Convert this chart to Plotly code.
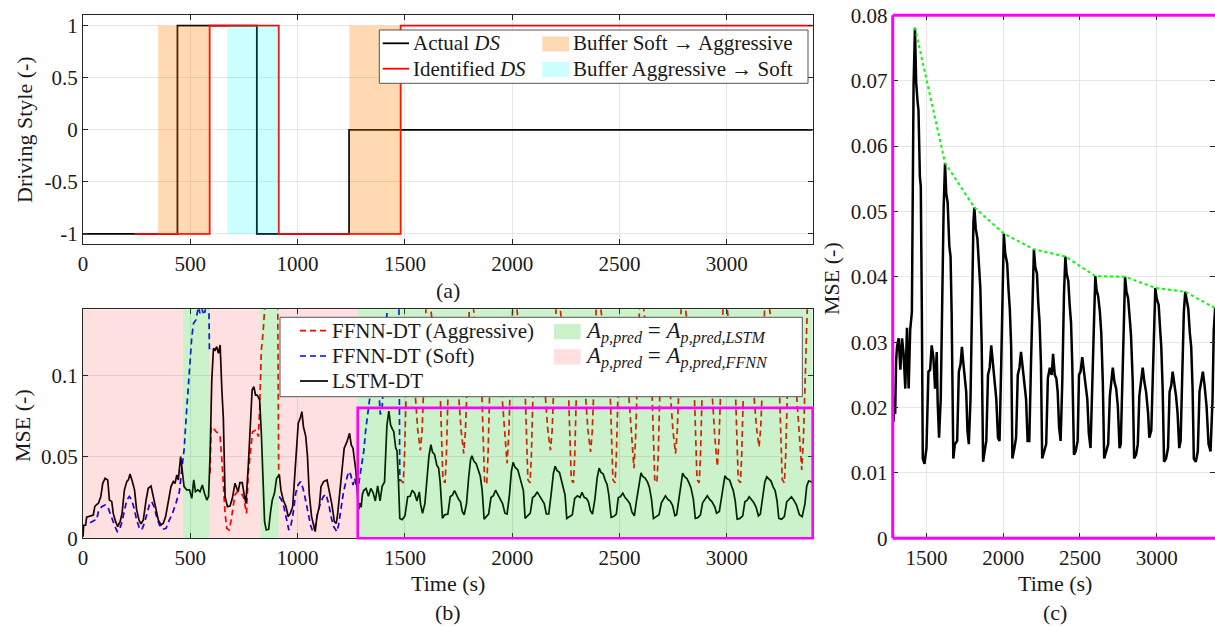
import plotly.graph_objects as go

W, H = 1215, 626
FONT = "Liberation Serif, Times New Roman, serif"
TXT = "#1a1a1a"

# ---------------- data ----------------
# (a) driving style
ds_actual_t = [0, 440, 810, 1240, 3400]
ds_actual_v = [-1, 1, -1, 0, 0]
ds_ident_t = [240, 590, 912, 1480, 3400]
ds_ident_v = [-1, 1, -1, 1, 1]
buffer_soft_to_aggr = [(350, 590), (1241, 1480)]
buffer_aggr_to_soft = [(672, 912)]

# (b) predictor selection regions
lstm_regions = [(465, 590), (827, 912), (1278, 3400)]
ffnn_regions = [(0, 465), (590, 827), (912, 1278)]

# LSTM-DT MSE
lstm_t = [0, 3, 12, 17, 48, 55, 61, 72, 83, 92, 103, 115, 119, 123, 134, 141, 152, 162, 173, 182,
          193, 204, 212, 219, 230, 240, 250, 261, 270, 281, 294, 304, 317, 328, 339, 351, 364, 374, 385, 398,
          410, 421, 429, 437, 444, 455, 463, 471, 483, 496, 507, 516, 524, 535, 545, 556, 566, 577, 585, 592,
          600, 608, 616, 623, 631, 639, 647, 654, 662, 673, 685, 696, 708, 715, 723, 731, 742, 750, 759, 770,
          781, 788, 796, 804, 812, 823, 831, 839, 846, 854, 865, 873, 882, 892, 902, 915, 922, 933, 946, 956,
          966, 977, 984, 995, 1003, 1012, 1020, 1027, 1038, 1046, 1054, 1065, 1074, 1082, 1090, 1101, 1109, 1121, 1137, 1149,
          1160, 1171, 1180, 1186, 1196, 1206, 1217, 1230, 1242, 1250, 1258, 1264, 1272, 1276, 1281, 1285, 1290, 1296, 1302, 1308,
          1319, 1330, 1341, 1351, 1362, 1373, 1384, 1394, 1405, 1416, 1425, 1433, 1442, 1448, 1457, 1463, 1470, 1476, 1487, 1500,
          1513, 1524, 1534, 1545, 1556, 1567, 1573, 1582, 1593, 1603, 1612, 1621, 1629, 1638, 1649, 1657, 1664, 1675, 1685, 1700,
          1711, 1722, 1731, 1739, 1750, 1759, 1767, 1776, 1787, 1797, 1806, 1812, 1821, 1832, 1845, 1851, 1860, 1869, 1879, 1890,
          1901, 1912, 1922, 1933, 1944, 1955, 1966, 1976, 1987, 1996, 2004, 2013, 2026, 2034, 2043, 2052, 2060, 2073, 2084, 2095,
          2106, 2116, 2127, 2138, 2149, 2159, 2170, 2181, 2192, 2200, 2209, 2220, 2228, 2237, 2246, 2254, 2267, 2280, 2291, 2304,
          2316, 2325, 2336, 2346, 2355, 2364, 2374, 2385, 2396, 2405, 2413, 2424, 2433, 2442, 2450, 2461, 2472, 2485, 2494, 2504,
          2515, 2526, 2537, 2548, 2558, 2569, 2580, 2591, 2600, 2608, 2619, 2630, 2639, 2649, 2658, 2671, 2684, 2695, 2706, 2714,
          2725, 2736, 2747, 2758, 2766, 2777, 2786, 2794, 2803, 2814, 2825, 2833, 2844, 2853, 2866, 2877, 2887, 2898, 2909, 2920,
          2931, 2944, 2952, 2965, 2976, 2985, 2991, 3000, 3013, 3024, 3030, 3039, 3048, 3061, 3074, 3084, 3095, 3104, 3115, 3126,
          3136, 3147, 3156, 3167, 3177, 3186, 3195, 3206, 3216, 3225, 3234, 3242, 3255, 3268, 3279, 3290, 3301, 3312, 3325, 3338,
          3351, 3364, 3372, 3381, 3392, 3400]
lstm_v = [0.001, 0.008, 0.008, 0.013, 0.0143, 0.0195, 0.0204, 0.0215, 0.0256, 0.0337, 0.0368, 0.0358, 0.030, 0.0235, 0.0225, 0.0153, 0.0102, 0.0072, 0.0102, 0.0153,
          0.0297, 0.0348, 0.036, 0.0395, 0.0348, 0.0297, 0.0174, 0.0112, 0.0088, 0.0112, 0.0235, 0.0307, 0.0321, 0.0256, 0.0174, 0.0112, 0.0082, 0.0092, 0.0133, 0.0235,
          0.0317, 0.0348, 0.0337, 0.0389, 0.0358, 0.0501, 0.0419, 0.0317, 0.0297, 0.0297, 0.0245, 0.0358, 0.0286, 0.0297, 0.0286, 0.0327, 0.0276, 0.0235, 0.0256, 0.0501,
          0.0971, 0.1166, 0.1155, 0.1176, 0.1135, 0.1186, 0.091, 0.0736, 0.0256, 0.0194, 0.0198, 0.0245, 0.0337, 0.0317, 0.0286, 0.0342, 0.0342, 0.0276, 0.0215, 0.044,
          0.0746, 0.091, 0.093, 0.0879, 0.0879, 0.0849, 0.0644, 0.0317, 0.0102, 0.0051, 0.0055, 0.0153, 0.0235, 0.0276, 0.0368, 0.0389, 0.0297, 0.0235, 0.0194, 0.0133,
          0.0153, 0.0194, 0.0317, 0.0521, 0.0706, 0.0736, 0.0777, 0.0685, 0.0624, 0.0501, 0.0276, 0.0133, 0.0072, 0.0041, 0.0133, 0.0194, 0.0317, 0.0348, 0.0358, 0.0286,
          0.0205, 0.0102, 0.0092, 0.0143, 0.0266, 0.043, 0.0553, 0.0593, 0.0644, 0.0573, 0.0553, 0.0491, 0.0409, 0.032, 0.020, 0.0178, 0.0215, 0.019, 0.027, 0.0293,
          0.0306, 0.0258, 0.0306, 0.0282, 0.0229, 0.0322, 0.0229, 0.0319, 0.0346, 0.0692, 0.0781, 0.0697, 0.0668, 0.0655, 0.0554, 0.0538, 0.0346, 0.0122, 0.0114, 0.0138,
          0.0255, 0.0258, 0.0295, 0.0277, 0.0229, 0.0285, 0.0208, 0.0154, 0.0213, 0.0399, 0.0506, 0.0574, 0.0527, 0.0514, 0.0447, 0.0431, 0.0346, 0.0122, 0.0144, 0.0149,
          0.0255, 0.0266, 0.0293, 0.0271, 0.0239, 0.0224, 0.0165, 0.0144, 0.0213, 0.0373, 0.0484, 0.0506, 0.0474, 0.0458, 0.0405, 0.0383, 0.0293, 0.0117, 0.0133, 0.0149,
          0.025, 0.0261, 0.0295, 0.0266, 0.0234, 0.0213, 0.0154, 0.0149, 0.0266, 0.041, 0.0466, 0.0436, 0.042, 0.0383, 0.0351, 0.0293, 0.0122, 0.0138, 0.0154, 0.025,
          0.0261, 0.0285, 0.0261, 0.0239, 0.0213, 0.0149, 0.0149, 0.0266, 0.0399, 0.0442, 0.0415, 0.0405, 0.0362, 0.033, 0.0266, 0.0122, 0.0133, 0.0144, 0.0245, 0.0261,
          0.025, 0.0282, 0.025, 0.0245, 0.0224, 0.017, 0.0149, 0.0239, 0.0373, 0.0431, 0.0405, 0.0394, 0.0357, 0.033, 0.0266, 0.0128, 0.0133, 0.0149, 0.025, 0.0255,
          0.0277, 0.025, 0.0234, 0.0213, 0.016, 0.0138, 0.0239, 0.0346, 0.0401, 0.038, 0.037, 0.0346, 0.0314, 0.0239, 0.0122, 0.0133, 0.0144, 0.0218, 0.0239, 0.0261,
          0.0239, 0.0229, 0.0202, 0.0138, 0.0144, 0.0239, 0.0346, 0.0400, 0.0378, 0.0367, 0.0335, 0.0309, 0.0239, 0.0122, 0.0128, 0.0144, 0.0218, 0.0239, 0.0261, 0.0239,
          0.0224, 0.0192, 0.0154, 0.0165, 0.0266, 0.0357, 0.0383, 0.0367, 0.0357, 0.0314, 0.0293, 0.0229, 0.0117, 0.0122, 0.0138, 0.0224, 0.0234, 0.0255, 0.0239, 0.0218,
          0.0192, 0.0138, 0.0149, 0.0239, 0.0346, 0.0377, 0.0362, 0.0351, 0.0314, 0.0293, 0.0229, 0.0122, 0.0117, 0.0133, 0.0224, 0.0239, 0.0255, 0.0234, 0.0202, 0.0144,
          0.0133, 0.0213, 0.0319, 0.0352, 0.0350, 0.0345]

# peak envelope of LSTM-DT MSE
env_t = [1425, 1621, 1812, 2004, 2200, 2405, 2600, 2794, 2991, 3186, 3381]
env_v = [0.0781, 0.0574, 0.0506, 0.0466, 0.0442, 0.0431, 0.0401, 0.0400, 0.0383, 0.0377, 0.0352]

# FFNN-DT (Soft) MSE, two visible stretches
soft1_t = [33, 45, 56, 63, 72, 87, 103, 115, 126, 137, 149, 160, 169, 180, 193, 204, 216, 227, 238, 250,
           263, 273, 286, 297, 309, 320, 331, 343, 356, 371, 387, 402, 417, 433, 449, 460, 471, 483, 496, 507,
           515, 526, 538, 545, 553, 564, 573, 580, 586, 589]
soft1_v = [0.0096, 0.0105, 0.0112, 0.0112, 0.0164, 0.0194, 0.0204, 0.0194, 0.0153, 0.0112, 0.0072, 0.0041, 0.0051, 0.0092, 0.0174, 0.0235, 0.0256, 0.0235, 0.0184, 0.0112,
           0.0061, 0.0051, 0.0092, 0.0153, 0.0204, 0.0225, 0.0194, 0.0133, 0.0082, 0.0055, 0.0061, 0.0112, 0.0153, 0.0215, 0.0286, 0.0419, 0.0542, 0.0787, 0.1053, 0.1237,
           0.1319, 0.134, 0.1421, 0.138, 0.141, 0.137, 0.142, 0.15, 0.15, 0.115]
soft2_t = [914, 925, 936, 948, 959, 968, 979, 991, 1002, 1014, 1025, 1037, 1048, 1060, 1071, 1082, 1093, 1106, 1120, 1132,
           1145, 1156, 1168, 1183, 1191, 1202, 1214, 1227, 1238, 1248, 1258, 1265, 1273, 1284, 1295, 1308, 1318, 1328, 1340, 1352,
           1365, 1375, 1385, 1393, 1402, 1412, 1420, 1440, 1470, 1476]
soft2_v = [0.0256, 0.0235, 0.0194, 0.0112, 0.0051, 0.0072, 0.0153, 0.0276, 0.0327, 0.0348, 0.0307, 0.0235, 0.0153, 0.0082, 0.0041, 0.0072, 0.0153, 0.0215, 0.0256, 0.027,
           0.021, 0.013, 0.0072, 0.004, 0.0082, 0.0184, 0.0286, 0.0358, 0.041, 0.0389, 0.0327, 0.0368, 0.0327, 0.0327, 0.041, 0.0532, 0.0675, 0.0777, 0.090, 0.110,
           0.120, 0.100, 0.076, 0.078, 0.100, 0.130, 0.160, 0.200, 0.200, 0.035]

# FFNN-DT (Aggressive) MSE, two visible stretches
aggr1_t = [592, 597, 608, 620, 631, 639, 647, 654, 662, 670, 681, 689, 698, 708, 719, 731, 747, 758, 762, 770,
           781, 790, 806, 817, 823, 831, 839, 846, 855, 905, 912]
aggr1_v = [0.0399, 0.0685, 0.0675, 0.0654, 0.0644, 0.0624, 0.0481, 0.0297, 0.0153, 0.0061, 0.0051, 0.0102, 0.0194, 0.0266, 0.0286, 0.0286, 0.0256, 0.0174, 0.0153, 0.0399,
           0.0542, 0.0654, 0.0665, 0.0624, 0.0787, 0.1155, 0.1258, 0.14, 0.2, 0.2, 0.038]
aggr2_t = [1479, 1492, 1498, 1506, 1531, 1547, 1560, 1572, 1580, 1588, 1602,
           1663, 1671, 1677, 1687, 1693, 1701, 1726, 1749, 1762, 1774, 1782, 1790, 1804,
           1857, 1865, 1871, 1881, 1887, 1895, 1920, 1951, 1964, 1976, 1984, 1992, 2006,
           2059, 2067, 2073, 2083, 2089, 2097, 2122, 2153, 2166, 2178, 2186, 2194, 2208,
           2261, 2269, 2275, 2285, 2291, 2299, 2324, 2340, 2353, 2365, 2373, 2381, 2395,
           2455, 2463, 2469, 2479, 2485, 2493, 2518, 2542, 2555, 2567, 2575, 2583, 2597,
           2650, 2658, 2664, 2674, 2680, 2688, 2713, 2736, 2749, 2761, 2769, 2777, 2791,
           2847, 2855, 2861, 2871, 2877, 2885, 2910, 2931, 2944, 2956, 2964, 2972, 2986,
           3039, 3047, 3053, 3063, 3069, 3077, 3102, 3125, 3138, 3150, 3158, 3166, 3180,
           3244, 3252, 3258, 3268, 3274, 3282, 3307, 3324, 3337, 3349, 3357, 3365, 3379, 3400]
aggr2_v = [0.036, 0.034, 0.05, 0.09, 0.12, 0.09, 0.066, 0.054, 0.066, 0.095, 0.16,
           0.095, 0.052, 0.036, 0.034, 0.05, 0.09, 0.12, 0.09, 0.066, 0.052, 0.066, 0.095, 0.16,
           0.095, 0.052, 0.035, 0.033, 0.05, 0.09, 0.12, 0.09, 0.064, 0.046, 0.064, 0.095, 0.16,
           0.095, 0.052, 0.036, 0.034, 0.05, 0.09, 0.12, 0.09, 0.066, 0.054, 0.066, 0.095, 0.16,
           0.095, 0.052, 0.036, 0.034, 0.05, 0.09, 0.12, 0.09, 0.066, 0.053, 0.066, 0.095, 0.16,
           0.095, 0.052, 0.036, 0.034, 0.05, 0.09, 0.12, 0.09, 0.062, 0.043, 0.062, 0.095, 0.16,
           0.095, 0.052, 0.036, 0.034, 0.05, 0.09, 0.12, 0.09, 0.066, 0.052, 0.066, 0.095, 0.16,
           0.095, 0.052, 0.036, 0.034, 0.05, 0.09, 0.12, 0.09, 0.062, 0.044, 0.062, 0.095, 0.16,
           0.095, 0.052, 0.036, 0.034, 0.05, 0.09, 0.12, 0.09, 0.068, 0.056, 0.068, 0.095, 0.16,
           0.095, 0.052, 0.036, 0.034, 0.05, 0.09, 0.12, 0.09, 0.062, 0.042, 0.062, 0.095, 0.16, 0.16]

zoom_box = (1280, 3400, 0, 0.08)  # t0, t1, mse0, mse1

# tick definitions
x_ticks = [0, 500, 1000, 1500, 2000, 2500, 3000]
ya_ticks = [-1, -0.5, 0, 0.5, 1]
ya_text = ["-1", "-0.5", "0", "0.5", "1"]
yb_ticks = [0, 0.05, 0.1]
yb_text = ["0", "0.05", "0.1"]
xc_ticks = [1500, 2000, 2500, 3000]
yc_ticks = [0, 0.01, 0.02, 0.03, 0.04, 0.05, 0.06, 0.07, 0.08]
yc_text = ["0", "0.01", "0.02", "0.03", "0.04", "0.05", "0.06", "0.07", "0.08"]

# ---------------- layout geometry ----------------
def px(x):
    return x / W

def py(y):
    return 1 - y / H

XA_DOM = [px(83), px(812.7)]
YA_DOM = [py(244.3), py(15.3)]
YB_DOM = [py(538.3), py(309.3)]
XC_DOM = [px(892.7), 1.0]
YC_DOM = [py(538.3), py(15.3)]
XR = [0, 3400]
YA_R = [-1.1, 1.1]
YB_R = [0, 0.1405]
XC_R = [1280, 3380]
YC_R = [0, 0.08]

fig = go.Figure()

# (a)
fig.add_trace(go.Scatter(x=ds_actual_t, y=ds_actual_v, mode="lines", line=dict(color="black", width=1.8, shape="hv"),
                         xaxis="x", yaxis="y", showlegend=False))
fig.add_trace(go.Scatter(x=ds_ident_t, y=ds_ident_v, mode="lines", line=dict(color="#ff0000", width=1.8, shape="hv"),
                         xaxis="x", yaxis="y", showlegend=False))

# (b)
DASH = "6px,4px"
fig.add_trace(go.Scatter(x=aggr1_t, y=aggr1_v, mode="lines", line=dict(color="#ff0000", width=1.7, dash=DASH),
                         xaxis="x2", yaxis="y2", showlegend=False))
fig.add_trace(go.Scatter(x=aggr2_t, y=aggr2_v, mode="lines", line=dict(color="#ff0000", width=1.7, dash=DASH),
                         xaxis="x2", yaxis="y2", showlegend=False))
fig.add_trace(go.Scatter(x=soft1_t, y=soft1_v, mode="lines", line=dict(color="#0000ff", width=1.7, dash=DASH),
                         xaxis="x2", yaxis="y2", showlegend=False))
fig.add_trace(go.Scatter(x=soft2_t, y=soft2_v, mode="lines", line=dict(color="#0000ff", width=1.7, dash=DASH),
                         xaxis="x2", yaxis="y2", showlegend=False))
fig.add_trace(go.Scatter(x=lstm_t, y=lstm_v, mode="lines", line=dict(color="black", width=1.7),
                         xaxis="x2", yaxis="y2", showlegend=False))

# (c)
fig.add_trace(go.Scatter(x=lstm_t, y=lstm_v, mode="lines", line=dict(color="black", width=2.5),
                         xaxis="x3", yaxis="y3", showlegend=False))
fig.add_trace(go.Scatter(x=env_t, y=env_v, mode="lines", line=dict(color="#00ff00", width=2, dash="dot"),
                         xaxis="x3", yaxis="y3", showlegend=False))

shapes = []
ORANGE = "rgba(255,128,0,0.3)"
CYAN = "rgba(0,255,255,0.2)"
GREEN = "rgba(0,190,0,0.2)"
PINK = "rgba(255,0,0,0.12)"
for a, b in buffer_soft_to_aggr:
    shapes.append(dict(type="rect", xref="x", yref="y", x0=a, x1=b, y0=-1, y1=1, fillcolor=ORANGE,
                       line=dict(width=0), layer="above"))
for a, b in buffer_aggr_to_soft:
    shapes.append(dict(type="rect", xref="x", yref="y", x0=a, x1=b, y0=-1, y1=1, fillcolor=CYAN,
                       line=dict(width=0), layer="above"))
for a, b in lstm_regions:
    shapes.append(dict(type="rect", xref="x2", yref="y2 domain", x0=a, x1=b, y0=0, y1=1, fillcolor=GREEN,
                       line=dict(width=0), layer="above"))
for a, b in ffnn_regions:
    shapes.append(dict(type="rect", xref="x2", yref="y2 domain", x0=a, x1=b, y0=0, y1=1, fillcolor=PINK,
                       line=dict(width=0), layer="above"))

# magenta zoom box in (b) (paper coords from the axis scales so it is not clipped)
def xb_paper(v):
    return XA_DOM[0] + (v - XR[0]) / (XR[1] - XR[0]) * (XA_DOM[1] - XA_DOM[0])

def yb_paper(v):
    return YB_DOM[0] + (v - YB_R[0]) / (YB_R[1] - YB_R[0]) * (YB_DOM[1] - YB_DOM[0])

MAG = "#ff00ff"
shapes.append(dict(type="rect", xref="paper", yref="paper",
                   x0=xb_paper(zoom_box[0]), x1=xb_paper(zoom_box[1]),
                   y0=yb_paper(zoom_box[2]), y1=yb_paper(zoom_box[3]),
                   line=dict(color=MAG, width=2.6), layer="above"))
# magenta frame of (c)
for (x0, y0, x1, y1) in [(XC_DOM[0], YC_DOM[0], XC_DOM[0], YC_DOM[1]),
                         (XC_DOM[0], YC_DOM[1], 1.0, YC_DOM[1]),
                         (XC_DOM[0], YC_DOM[0], 1.0, YC_DOM[0])]:
    shapes.append(dict(type="line", xref="paper", yref="paper", x0=x0, y0=y0, x1=x1, y1=y1,
                       line=dict(color=MAG, width=3), layer="above"))

annotations = []

def text(x, y, s, size=21, xanchor="left", angle=0):
    annotations.append(dict(x=px(x), y=py(y), xref="paper", yref="paper", text=s, showarrow=False,
                            xanchor=xanchor, yanchor="middle", textangle=angle,
                            font=dict(family=FONT, size=size, color=TXT)))

# legend (a)
shapes.append(dict(type="rect", xref="paper", yref="paper", x0=px(379.3), x1=px(808), y0=py(83.3), y1=py(30),
                   fillcolor="white", line=dict(color="#555555", width=1), layer="above"))
shapes.append(dict(type="line", xref="paper", yref="paper", x0=px(382.7), x1=px(409), y0=py(43.3), y1=py(43.3),
                   line=dict(color="black", width=1.8), layer="above"))
shapes.append(dict(type="line", xref="paper", yref="paper", x0=px(382.7), x1=px(409), y0=py(68.7), y1=py(68.7),
                   line=dict(color="#ff0000", width=1.8), layer="above"))
shapes.append(dict(type="rect", xref="paper", yref="paper", x0=px(542.3), x1=px(569), y0=py(51.5), y1=py(36.5),
                   fillcolor=ORANGE, line=dict(width=0), layer="above"))
shapes.append(dict(type="rect", xref="paper", yref="paper", x0=px(542.3), x1=px(569), y0=py(77), y1=py(62),
                   fillcolor=CYAN, line=dict(width=0), layer="above"))
text(411, 43.3, "Actual <i>DS</i>")
text(411, 68.7, "Identified <i>DS</i>")
text(571, 43.3, "Buffer Soft → Aggressive")
text(571, 68.7, "Buffer Aggressive → Soft")

# legend (b)
shapes.append(dict(type="rect", xref="paper", yref="paper", x0=px(280), x1=px(802.3), y0=py(396.7), y1=py(317.3),
                   fillcolor="white", line=dict(color="#555555", width=1), layer="above"))
shapes.append(dict(type="line", xref="paper", yref="paper", x0=px(300), x1=px(328), y0=py(330.7), y1=py(330.7),
                   line=dict(color="#ff0000", width=1.7, dash=DASH), layer="above"))
shapes.append(dict(type="line", xref="paper", yref="paper", x0=px(300), x1=px(328), y0=py(356), y1=py(356),
                   line=dict(color="#0000ff", width=1.7, dash=DASH), layer="above"))
shapes.append(dict(type="line", xref="paper", yref="paper", x0=px(300), x1=px(328), y0=py(381), y1=py(381),
                   line=dict(color="black", width=1.7), layer="above"))
shapes.append(dict(type="rect", xref="paper", yref="paper", x0=px(554), x1=px(580.7), y0=py(339.3), y1=py(324),
                   fillcolor=GREEN, line=dict(width=0), layer="above"))
shapes.append(dict(type="rect", xref="paper", yref="paper", x0=px(554), x1=px(580.7), y0=py(364.5), y1=py(349.2),
                   fillcolor=PINK, line=dict(width=0), layer="above"))
text(330, 330.7, "FFNN-DT (Aggressive)")
text(330, 356, "FFNN-DT (Soft)")
text(330, 381, "LSTM-DT")
text(583, 332, "<i>A</i><sub><i>p,pred</i></sub> = <i>A</i><sub><i>p,pred,LSTM</i></sub>", size=23)
text(583, 357.5, "<i>A</i><sub><i>p,pred</i></sub> = <i>A</i><sub><i>p,pred,FFNN</i></sub>", size=23)

# titles and captions
text(24, 130, "Driving Style (-)", size=22, xanchor="center", angle=-90)
text(448, 290, "(a)", size=22, xanchor="center")
text(22, 426, "MSE (-)", size=22, xanchor="center", angle=-90)
text(448, 583, "Time (s)", size=22, xanchor="center")
text(448, 612, "(b)", size=22, xanchor="center")
text(831, 278, "MSE (-)", size=22, xanchor="center", angle=-90)
text(1055, 583, "Time (s)", size=22, xanchor="center")
text(1055, 612, "(c)", size=22, xanchor="center")

GRID = "#e6e6e6"
AX = "#262626"
tickfont = dict(family=FONT, size=21, color=TXT)

def axis(dom, rng, tickvals, ticktext=None, anchor=None, linecolor=AX, linewidth=1, mirror="ticks"):
    d = dict(domain=dom, range=rng, tickvals=tickvals, showgrid=True, gridcolor=GRID, gridwidth=1,
             zeroline=False, showline=True, linecolor=linecolor, linewidth=linewidth, mirror=mirror,
             ticks="inside", ticklen=5, tickcolor=AX, tickwidth=1, tickfont=tickfont, automargin=False,
             anchor=anchor, fixedrange=True)
    if ticktext is not None:
        d["ticktext"] = ticktext
    return d

fig.update_layout(
    width=W, height=H, margin=dict(l=0, r=0, t=0, b=0),
    paper_bgcolor="white", plot_bgcolor="white",
    font=dict(family=FONT, size=21, color=TXT),
    xaxis=axis(XA_DOM, XR, x_ticks, anchor="y"),
    yaxis=axis(YA_DOM, YA_R, ya_ticks, ya_text, anchor="x"),
    xaxis2=axis(XA_DOM, XR, x_ticks, anchor="y2"),
    yaxis2=axis(YB_DOM, YB_R, yb_ticks, yb_text, anchor="x2"),
    xaxis3=axis(XC_DOM, XC_R, xc_ticks, anchor="y3", linecolor="rgba(0,0,0,0)"),
    yaxis3=axis(YC_DOM, YC_R, yc_ticks, yc_text, anchor="x3", linecolor="rgba(0,0,0,0)"),
    shapes=shapes, annotations=annotations, showlegend=False,
)

fig.write_html("out.html")
